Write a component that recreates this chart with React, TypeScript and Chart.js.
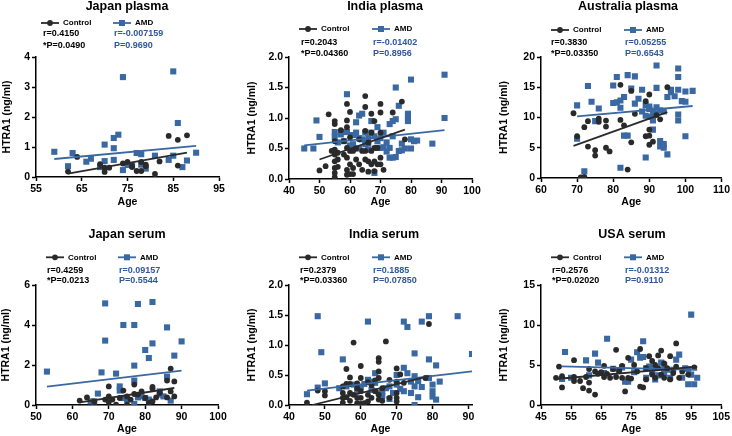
import { useEffect, useRef } from 'react';
import { Chart, registerables } from 'chart.js';

Chart.register(...registerables);

type P = [number, number];

// ---------------- data (age, HTRA1 ng/ml) ----------------
const japanPlasmaControl: P[] = [[62,0.18],[64,0.67],[69,0.43],[70,0.31],[70,0.17],[71,0.31],[74,0.45],[75,0.5],[76,0.37],[76,0.33],[77,0.2],[78,0.2],[78,0.5],[79,0.41],[79,0.36],[81,0.1],[82,0.52],[84,1.37],[86,1.24],[86,0.38],[88,1.39]];
const japanPlasmaAMD: P[] = [[59,0.84],[62,0.36],[63,0.8],[66,0.51],[67,0.61],[69,0.33],[70,1.08],[70,0.53],[72,1.3],[72,0.96],[72,0.57],[73,1.41],[74,3.33],[74,0.23],[75,0.4],[76,0.38],[77,0.8],[78,0.76],[78,0.41],[79,0.28],[81,0.71],[84,0.57],[85,3.52],[85,0.71],[86,1.8],[87,0.33],[88,0.55],[90,0.81]];
const japanPlasmaControlFit: P[] = [[62,0.11],[88,0.81]];
const japanPlasmaAMDFit: P[] = [[59,0.6],[90,1.04]];

const indiaPlasmaControl: P[] = [[50,0.14],[52,0.21],[53,1.06],[54,0.46],[55,0.03],[55,0.1],[55,0.18],[55,0.29],[55,0.4],[55,0.48],[55,0.62],[55,0.9],[55,0.95],[56,0.43],[56,0.32],[56,0.2],[57,0.8],[58,0.4],[58,0.62],[59,1.23],[59,0.96],[59,0.85],[59,0.51],[59,0.35],[59,0.15],[59,0.07],[60,1.1],[60,0.68],[60,0.46],[60,0.24],[60,0.08],[61,0.46],[61,0.18],[61,0.08],[62,0.5],[62,0.32],[63,0.65],[63,0.24],[64,0.46],[64,0.15],[65,1.36],[65,1.18],[65,0.79],[65,0.46],[65,0.32],[66,0.6],[66,0.29],[66,0.12],[67,1.07],[67,0.76],[67,0.46],[67,0.24],[68,0.95],[68,0.51],[68,0.29],[68,0.13],[69,0.51],[69,0.24],[70,1.23],[70,1.09],[70,0.76],[70,0.35],[70,0.24],[71,0.15],[74,1.09],[77,1.27],[78,0.65]];
const indiaPlasmaAMD: P[] = [[45,0.5],[48,0.5],[49,0.96],[50,0.69],[55,0.77],[55,0.69],[56,0.6],[57,0.73],[58,0.77],[58,0.62],[59,1.39],[59,0.77],[60,0.55],[61,0.57],[61,0.72],[62,0.93],[62,0.76],[63,1.04],[63,0.67],[63,0.5],[64,1.07],[64,0.65],[65,0.76],[65,0.57],[66,0.67],[66,0.48],[66,0.58],[67,0.95],[67,0.76],[68,0.7],[68,0.1],[69,0.85],[69,0.51],[69,0.62],[70,0.67],[70,0.51],[71,0.76],[71,0.52],[72,0.6],[72,0.45],[73,0.9],[73,0.51],[73,0.35],[74,0.7],[74,0.95],[74,0.35],[75,0.36],[75,1.5],[75,0.98],[76,1.2],[76,0.46],[77,0.47],[77,0.58],[78,0.5],[79,1.07],[79,1.0],[79,0.95],[80,1.63],[80,0.65],[80,0.5],[81,0.62],[82,0.63],[87,0.58],[91,1.71],[91,1.0]];
const indiaPlasmaControlFit: P[] = [[50,0.32],[78,0.81]];
const indiaPlasmaAMDFit: P[] = [[45,0.55],[91,0.8]];

const australiaPlasmaControl: P[] = [[69,10.7],[70,6.9],[72,8.4],[73,9.4],[73,5.2],[75,4.6],[75,3.7],[76,9.8],[76,9.3],[78,9.5],[78,8.5],[78,5.0],[79,4.4],[82,15.4],[82,9.6],[83,8.7],[85,14.4],[85,5.9],[86,10.6],[89,12.7],[89,6.9],[90,13.8],[90,8.0],[90,7.0],[90,5.5],[91,6.0],[92,10.4],[93,9.7],[95,15.0],[84,1.4],[71,0.1],[72,0.1],[72,0.15]];
const australiaPlasmaAMD: P[] = [[70,12],[70,6.5],[72,1.1],[73,15.2],[74,12.6],[76,11.5],[75,9.4],[80,15.3],[81,16.7],[80,12.4],[81,12.5],[82,12.8],[83,13.4],[82,11.6],[83,7.0],[84,7.0],[84,17.0],[86,16.8],[85,14.8],[86,12.3],[87,13.1],[88,14.6],[88,11],[89,3.4],[89,12],[89,10.3],[90,10.1],[90,11.4],[90,11.8],[91,11.1],[91,10.3],[91,9.5],[91,8.0],[92,18.6],[92,14.9],[92,11.7],[92,10.7],[93,11.2],[93,6.1],[93,5.2],[94,5.0],[94,5.6],[94,11],[95,3.9],[95,13.4],[96,14.6],[96,14.2],[97,13.5],[98,18.1],[98,16.7],[98,14.6],[98,10.5],[98,9.5],[99,12.7],[100,12.6],[100,6.9],[100,14.3],[102,14.4],[82,1.7]];
const australiaPlasmaControlFit: P[] = [[69,5.3],[95,10.9]];
const australiaPlasmaAMDFit: P[] = [[70,10.2],[102,11.9]];

const japanSerumControl: P[] = [[62,0.22],[64,0.38],[66,0.18],[69,0.27],[70,0.43],[70,0.15],[70,0.93],[71,0.27],[72,0.02],[73,0.35],[74,0.72],[75,0.43],[75,0.02],[76,0.27],[77,1.02],[77,0.55],[78,0.52],[79,0.68],[80,0.35],[81,0.1],[82,0.9],[82,0.82],[82,0.18],[83,0.38],[84,0.6],[86,0.38],[86,1.22],[87,1.82],[87,0.68],[88,1.18],[88,0.43]];
const japanSerumAMD: P[] = [[53,1.67],[65,0.18],[66,0.18],[67,0.57],[68,1.63],[69,5.08],[69,3.22],[72,1.57],[73,0.93],[73,0.72],[74,4.0],[74,0.35],[75,0.27],[77,4.0],[77,1.97],[77,1.22],[77,0.05],[78,5.05],[78,0.38],[79,0.43],[80,2.75],[80,0.35],[81,2.35],[81,0.27],[82,5.15],[82,3.08],[84,0.68],[84,0.52],[85,0.43],[86,3.88],[86,1.42],[87,0.22],[88,2.47],[90,3.18]];
const japanSerumControlFit: P[] = [[62,0.13],[88,0.85]];
const japanSerumAMDFit: P[] = [[53,0.92],[90,1.72]];

const indiaSerumControl: P[] = [[45,0.04],[48,0.24],[50,0.23],[50,0.16],[55,0.31],[55,0.2],[55,0.12],[55,0.04],[56,0.6],[56,0.13],[56,0.35],[57,0.46],[57,0.2],[57,0.07],[57,0.35],[58,1.04],[58,0.17],[59,0.28],[59,0.12],[59,0.03],[59,0.36],[60,0.65],[60,0.45],[60,0.23],[60,0.12],[60,0.02],[61,0.03],[62,0.06],[62,0.17],[62,0.38],[63,0.33],[63,0.12],[64,0.23],[64,0.41],[65,0.78],[65,0.72],[65,0.56],[65,0.45],[65,0.17],[65,0.09],[66,0.28],[66,0.07],[67,1.06],[68,0.42],[68,0.12],[70,0.61],[70,0.39],[70,0.2],[70,0.12],[70,0.06],[71,0.51],[72,0.37],[78,0.45],[79,1.35]];
const indiaSerumAMD: P[] = [[45,0.18],[48,1.48],[48,0.29],[49,0.88],[50,0.36],[54,0.28],[55,0.76],[56,0.31],[58,0.34],[59,0.23],[60,0.3],[61,0.35],[62,1.39],[62,0.42],[63,0.39],[63,0.25],[64,0.53],[64,0.37],[65,0.2],[66,0.23],[66,0.15],[67,0.28],[68,0.31],[68,0.1],[69,0.2],[70,0.5],[70,0.34],[71,0.27],[72,1.39],[72,0.62],[72,0.23],[73,1.3],[73,0.53],[74,0.39],[74,0.2],[75,0.31],[75,0.0],[75,0.48],[75,0.86],[76,0.13],[76,0.4],[77,1.39],[77,0.3],[79,1.48],[79,0.76],[79,0.45],[80,0.34],[80,0.23],[80,0.14],[81,0.66],[81,0.09],[82,0.39],[87,1.48],[91,0.85]];
const indiaSerumControlFit: P[] = [[46.5,0],[79,0.48]];
const indiaSerumAMDFit: P[] = [[45,0.24],[91,0.56]];

const usaSerumControl: P[] = [[50,3.4],[51,4.8],[52,2.2],[52,3.6],[56,5.6],[56,3.5],[56,3.0],[58,3.0],[59,2.1],[60,3.5],[61,1.8],[61,4.5],[61,2.8],[63,1.3],[63,4.2],[64,3.9],[65,4.1],[66,3.5],[66,4.9],[67,3.9],[68,3.4],[69,4.5],[70,6.9],[70,3.5],[71,4.3],[72,4.9],[72,3.4],[73,1.7],[74,3.4],[74,5.9],[75,3.3],[76,5.0],[77,4.2],[78,7.0],[78,2.3],[79,2.2],[80,4.6],[80,3.2],[81,6.1],[82,3.8],[82,5.5],[83,5.0],[83,3.4],[84,6.2],[84,4.6],[85,6.8],[85,3.8],[86,3.4],[86,5.2],[87,4.6],[88,6.1],[88,3.2],[89,4.0],[90,7.7],[90,4.8],[91,3.4],[92,4.2],[94,3.8],[96,4.7]];
const usaSerumAMD: P[] = [[52,3.25],[53,6.63],[55,3.4],[60,5.58],[61,3.7],[63,6.42],[64,5.3],[66,4.0],[67,8.29],[69,4.54],[71,4.3],[72,4.7],[73,2.9],[74,2.9],[75,5.67],[76,4.1],[77,6.6],[78,5.9],[79,7.96],[79,6.0],[80,4.6],[80,3.4],[81,4.8],[82,4.2],[83,4.6],[83,3.2],[84,3.7],[85,5.3],[86,4.0],[86,5.0],[87,4.4],[88,3.4],[89,4.4],[90,5.67],[91,6.3],[92,3.4],[93,4.6],[94,4.5],[94,2.6],[95,11.3],[95,3.8],[96,2.6],[97,3.4]];
const usaSerumControlFit: P[] = [[50,3.25],[97,4.8]];
const usaSerumAMDFit: P[] = [[52,4.83],[97,4.4]];

const panelTitles = ['Japan plasma', 'India plasma', 'Australia plasma', 'Japan serum', 'India serum', 'USA serum'];
const controlStats = [['r=0.4150', '*P=0.0490'], ['r=0.2043', '*P=0.04360'], ['r=0.3830', '*P=0.03350'], ['r=0.4259', '*P=0.0213'], ['r=0.2379', '*P=0.03360'], ['r=0.2576', '*P=0.02020']];
const amdStats = [['r=-0.007159', 'P=0.9690'], ['r=-0.01402', 'P=0.8956'], ['r=0.05255', 'P=0.6543'], ['r=0.09157', 'P=0.5544'], ['r=0.1885', 'P=0.07850'], ['r=-0.01312', 'P=0.9110']];
const seriesNames = ['Control', 'AMD'];
const xAxisTitle = 'Age';
const yAxisTitle = 'HTRA1 (ng/ml)';
// axis ranges: [min, max, step]
const xRanges: [number, number, number][] = [[55, 95, 10], [40, 100, 10], [60, 110, 10], [50, 100, 10], [40, 91, 10], [45, 105, 10]];
const yRanges: [number, number, number, number][] = [[0, 4, 1, 0], [0, 2, 0.5, 1], [0, 20, 5, 0], [0, 6, 2, 0], [0, 2, 0.5, 1], [0, 15, 5, 0]];

const controlData = [japanPlasmaControl, indiaPlasmaControl, australiaPlasmaControl, japanSerumControl, indiaSerumControl, usaSerumControl];
const amdData = [japanPlasmaAMD, indiaPlasmaAMD, australiaPlasmaAMD, japanSerumAMD, indiaSerumAMD, usaSerumAMD];
const controlFits = [japanPlasmaControlFit, indiaPlasmaControlFit, australiaPlasmaControlFit, japanSerumControlFit, indiaSerumControlFit, usaSerumControlFit];
const amdFits = [japanPlasmaAMDFit, indiaPlasmaAMDFit, australiaPlasmaAMDFit, japanSerumAMDFit, indiaSerumAMDFit, usaSerumAMDFit];

// ---------------- layout / style ----------------
const FONT = '"Liberation Sans", Arial, Helvetica, sans-serif';
const BLACK = '#2a2a2a';
const BLUE = '#3a68a2';
const BLUE_TEXT = '#30589a';
const W = 244;
const H = 218;

interface Layout {
  left: number; top: number;
  area: { l: number; r: number; t: number; b: number };
  titleX: number; titleY: number;
  legendY: number; ctrlLegX: number; amdLegX: number;
  statsY: number; ctrlStatsX: number; amdStatsX: number; statsGap: number;
  yTitleX: number; xTitleY: number;
}

const layouts: Layout[] = [
  { left: 0, top: 0, area: { l: 36, r: 219, t: 57, b: 177 }, titleX: 127, titleY: 10, legendY: 23, ctrlLegX: 41, amdLegX: 113, statsY: 34, ctrlStatsX: 43, amdStatsX: 114, statsGap: 12, yTitleX: 7, xTitleY: 202 },
  { left: 244, top: 0, area: { l: 45, r: 228, t: 57, b: 179 }, titleX: 141, titleY: 10, legendY: 29, ctrlLegX: 55, amdLegX: 128, statsY: 43, ctrlStatsX: 57, amdStatsX: 129, statsGap: 10.5, yTitleX: 8, xTitleY: 202 },
  { left: 488, top: 0, area: { l: 53, r: 235, t: 57, b: 178 }, titleX: 140, titleY: 10, legendY: 30, ctrlLegX: 63, amdLegX: 136, statsY: 43, ctrlStatsX: 63, amdStatsX: 137, statsGap: 10.5, yTitleX: 16, xTitleY: 202 },
  { left: 0, top: 218, area: { l: 36, r: 218, t: 67, b: 187 }, titleX: 127, titleY: 19.5, legendY: 39.3, ctrlLegX: 46, amdLegX: 118, statsY: 52.7, ctrlStatsX: 47, amdStatsX: 119, statsGap: 10, yTitleX: 6, xTitleY: 211 },
  { left: 244, top: 218, area: { l: 45, r: 228, t: 67, b: 187 }, titleX: 140, titleY: 19.5, legendY: 39.3, ctrlLegX: 55, amdLegX: 128, statsY: 52.7, ctrlStatsX: 56, amdStatsX: 129, statsGap: 10, yTitleX: 8, xTitleY: 211 },
  { left: 488, top: 218, area: { l: 53, r: 235, t: 67, b: 187 }, titleX: 144, titleY: 19.5, legendY: 39.3, ctrlLegX: 63, amdLegX: 136, statsY: 52.7, ctrlStatsX: 64, amdStatsX: 137, statsGap: 10, yTitleX: 16, xTitleY: 211 },
];

const toPts = (arr: P[]) => arr.map(([x, y]) => ({ x, y }));

function makeTextPlugin(i: number) {
  const L = layouts[i];
  return {
    id: 'panelText' + i,
    afterDraw(chart: any) {
      const ctx: CanvasRenderingContext2D = chart.ctx;
      const ca = chart.chartArea;
      ctx.save();
      // title
      ctx.fillStyle = '#000';
      ctx.font = `bold 12.5px ${FONT}`;
      ctx.textAlign = 'center';
      ctx.textBaseline = 'alphabetic';
      ctx.fillText(panelTitles[i], L.titleX, L.titleY);
      // legend
      const drawLeg = (x0: number, color: string, square: boolean, label: string) => {
        ctx.strokeStyle = color;
        ctx.lineWidth = 1.8;
        ctx.beginPath();
        ctx.moveTo(x0, L.legendY);
        ctx.lineTo(x0 + 18, L.legendY);
        ctx.stroke();
        ctx.fillStyle = color;
        if (square) {
          ctx.fillRect(x0 + 9 - 3, L.legendY - 3, 6, 6);
        } else {
          ctx.beginPath();
          ctx.arc(x0 + 9, L.legendY, 2.9, 0, Math.PI * 2);
          ctx.fill();
        }
        ctx.fillStyle = '#000';
        ctx.font = `bold 8px ${FONT}`;
        ctx.textAlign = 'left';
        ctx.textBaseline = 'middle';
        ctx.fillText(label, x0 + 22, L.legendY);
      };
      drawLeg(L.ctrlLegX, BLACK, false, seriesNames[0]);
      drawLeg(L.amdLegX, BLUE, true, seriesNames[1]);
      // stats
      ctx.font = `bold 9px ${FONT}`;
      ctx.textAlign = 'left';
      ctx.textBaseline = 'middle';
      ctx.fillStyle = '#000';
      ctx.fillText(controlStats[i][0], L.ctrlStatsX, L.statsY);
      ctx.fillText(controlStats[i][1], L.ctrlStatsX, L.statsY + L.statsGap);
      ctx.fillStyle = BLUE_TEXT;
      ctx.fillText(amdStats[i][0], L.amdStatsX, L.statsY);
      ctx.fillText(amdStats[i][1], L.amdStatsX, L.statsY + L.statsGap);
      // axis titles
      ctx.fillStyle = '#000';
      ctx.font = `bold 10.5px ${FONT}`;
      ctx.textAlign = 'center';
      ctx.textBaseline = 'middle';
      ctx.fillText(xAxisTitle, (ca.left + ca.right) / 2, L.xTitleY);
      ctx.save();
      ctx.translate(L.yTitleX, (ca.top + ca.bottom) / 2);
      ctx.rotate(-Math.PI / 2);
      ctx.fillText(yAxisTitle, 0, 0);
      ctx.restore();
      ctx.restore();
    },
  };
}

function Panel({ i }: { i: number }) {
  const ref = useRef<HTMLCanvasElement>(null);
  useEffect(() => {
    if (!ref.current) return;
    const L = layouts[i];
    const [xMin, xMax, xStep] = xRanges[i];
    const [yMin, yMax, yStep, yDec] = yRanges[i];
    const tickFont = { family: FONT, size: 10.5, weight: 'bold' as const };
    const chart = new Chart(ref.current, {
      type: 'scatter',
      data: {
        datasets: [
          { type: 'line', data: toPts(controlFits[i]), borderColor: BLACK, borderWidth: 1.8, pointRadius: 0, fill: false, order: 0 } as any,
          { type: 'line', data: toPts(amdFits[i]), borderColor: BLUE, borderWidth: 1.8, pointRadius: 0, fill: false, order: 1 } as any,
          { label: seriesNames[0], data: toPts(controlData[i]), pointStyle: 'circle', pointRadius: 2.9, backgroundColor: BLACK, borderColor: BLACK, borderWidth: 0, order: 2 },
          { label: seriesNames[1], data: toPts(amdData[i]), pointStyle: 'rect', pointRadius: 4.3, backgroundColor: BLUE, borderColor: BLUE, borderWidth: 0, order: 3 },
        ],
      },
      options: {
        responsive: false,
        animation: false,
        devicePixelRatio: 1,
        layout: { padding: { top: L.area.t, right: W - L.area.r, left: 0, bottom: 0 } },
        plugins: { legend: { display: false }, title: { display: false }, tooltip: { enabled: false } },
        scales: {
          x: {
            type: 'linear', min: xMin, max: xMax,
            afterFit: (s: any) => { s.height = H - L.area.b; },
            grid: { display: true, drawOnChartArea: false, drawTicks: true, tickLength: 4, color: '#000', tickWidth: 1.5 },
            border: { display: true, color: '#000', width: 1.5 },
            ticks: { stepSize: xStep, includeBounds: false, color: '#000', font: tickFont, padding: 2, maxRotation: 0, autoSkip: false },
          },
          y: {
            type: 'linear', min: yMin, max: yMax,
            afterFit: (s: any) => { s.width = L.area.l; },
            grid: { display: true, drawOnChartArea: false, drawTicks: true, tickLength: 4, color: '#000', tickWidth: 1.5 },
            border: { display: true, color: '#000', width: 1.5 },
            ticks: { stepSize: yStep, includeBounds: false, color: '#000', font: tickFont, padding: 2, autoSkip: false, callback: (v: any) => Number(v).toFixed(yDec) },
          },
        },
      },
      plugins: [makeTextPlugin(i)],
    });
    return () => chart.destroy();
  }, [i]);
  const L = layouts[i];
  return (
    <div style={{ position: 'absolute', left: L.left, top: L.top, width: W, height: H }}>
      <canvas ref={ref} width={W} height={H} style={{ width: W, height: H, display: 'block' }} />
    </div>
  );
}

export default function App() {
  return (
    <div style={{ position: 'absolute', left: 0, top: 0, width: 732, height: 436, background: '#fff', overflow: 'hidden' }}>
      {layouts.map((_, i) => <Panel key={i} i={i} />)}
    </div>
  );
}
